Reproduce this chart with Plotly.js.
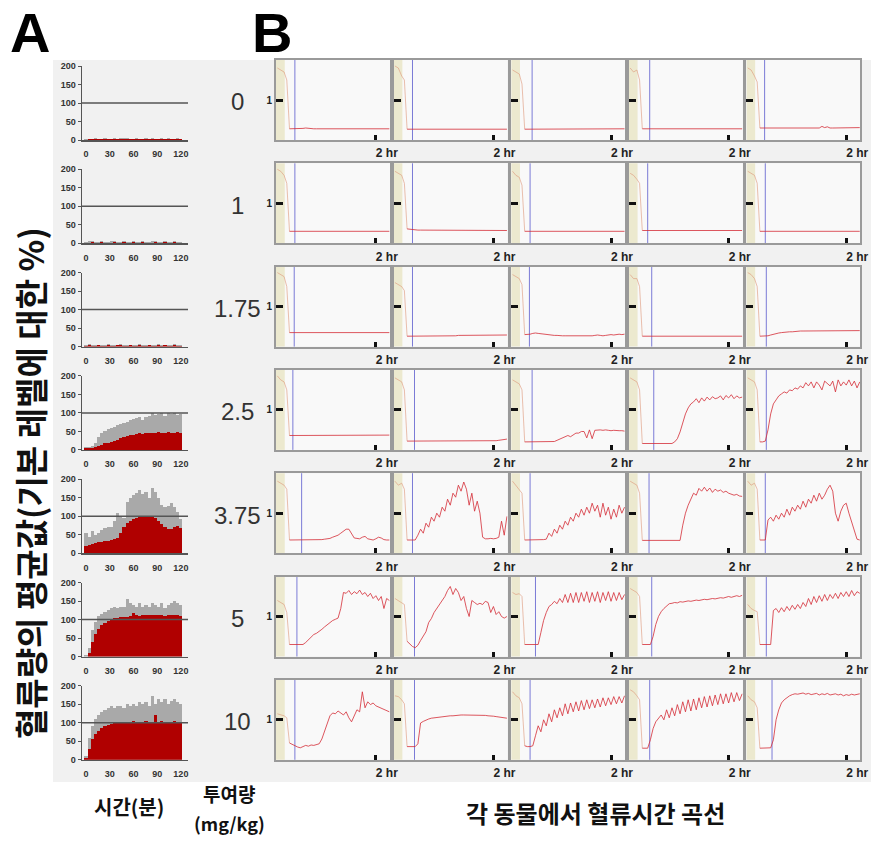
<!DOCTYPE html>
<html><head><meta charset="utf-8">
<script src="https://cdn.plot.ly/plotly-3.0.1.min.js"></script>
<style>html,body{margin:0;padding:0;background:#fff}#chart{width:871px;height:845px}</style>
</head><body><div id="chart"></div>
<script>
// ---------- Panel A: mean blood flow (% of baseline) ----------
const doseLabels = ['0','1','1.75','2.5','3.75','5','10'];
const timeA = [0,4,8,12,16,20,24,28,32,36,40,44,48,52,56,60,64,68,72,76,80,84,88,92,96,100,104,108,112,116,120];
const meanDose0 = [1,2,2,3,2,2,3,2,2,3,2,2,3,3,2,2,3,2,2,3,2,3,2,2,3,2,3,2,2,3,2];
const topDose0  = [3,4,4,5,4,4,5,4,4,5,4,5,5,6,4,4,5,4,4,5,4,5,4,4,6,4,5,4,4,6,4];
const meanDose1 = [2,2,3,2,2,3,2,2,2,3,2,2,3,2,2,3,2,2,3,2,2,2,3,2,2,3,2,2,3,2,2];
const topDose1  = [4,5,5,4,4,5,4,4,5,5,4,4,6,4,4,5,4,4,5,4,4,5,6,4,4,5,4,4,6,4,4];
const meanDose2 = [2,3,2,2,3,2,2,3,2,2,3,3,2,2,3,2,2,3,2,2,3,2,2,3,2,3,2,2,3,2,2];
const topDose2  = [4,6,4,4,5,4,4,6,4,4,5,6,4,4,5,4,4,6,4,4,5,4,4,6,4,5,4,4,6,4,4];
const meanDose3 = [4,5,6,8,10,14,18,20,22,25,28,31,34,37,39,41,43,45,44,46,45,47,46,48,46,47,48,47,46,48,45];
const topDose3  = [7,8,10,18,35,45,52,56,60,63,68,70,74,76,80,83,85,90,82,88,92,100,94,98,100,92,101,96,99,93,97];
const meanDose4 = [20,22,25,28,30,30,32,33,35,38,42,55,70,82,88,93,95,98,97,100,97,100,95,88,78,70,66,65,70,74,68];
const topDose4  = [55,45,60,48,55,62,68,70,72,88,108,98,95,138,148,158,163,172,160,166,150,175,165,150,130,124,128,136,126,112,92];
const meanDose5 = [0,10,40,62,75,85,90,95,100,103,105,107,108,108,109,118,112,110,112,111,113,112,111,113,112,110,112,113,111,112,110];
const topDose5  = [5,22,72,92,110,115,120,125,130,134,130,135,135,155,145,140,135,145,135,140,135,145,140,135,145,130,140,145,150,145,140];
const meanDose6 = [5,30,55,70,78,85,90,95,97,100,101,102,100,103,101,104,102,103,101,104,102,103,120,102,104,101,103,102,104,101,103];
const topDose6  = [10,60,90,110,120,130,135,140,145,140,145,145,140,150,145,150,145,155,150,155,145,172,150,165,155,165,150,160,165,155,150];
const ticksA_x = [0,30,60,90,120];
const ticksA_y = [0,50,100,150,200];

// ---------- Panel B: flow-time curve of each animal (relative to baseline 1) ----------
const timeB = [-26,-21,-16,-12,-8,-4,0,4,8,12,16,20,24,28,32,36,40,44,48,52,56,60,64,68,72,76,80,84,88,92,96,100,104,108,112,116,120,124,128,132,136,140];
// dose 0
const flow0_1 = [1.8,1.75,1.7,1.5, .28,.28,.28,.28,.28,.29,.30,.29,.28,.28, .28,.28,.28,.28,.28,.28,.28,.28,.28,.28, .28,.28,.28,.28,.28,.28,.28,.28,.28,.28, .28,.28,.28,.28,.28,.28,.28,.28];
const flow0_2 = [1.85,1.8,1.6,1.5, .27,.27,.27,.27,.27,.27,.27,.27,.27,.27, .27,.27,.27,.27,.27,.27,.27,.27,.27,.27, .27,.27,.27,.27,.27,.27,.27,.27,.27,.27, .27,.27,.27,.27,.27,.27,.27,.27];
const flow0_3 = [1.75,1.7,1.65,1.4, .27,.27,.27,.27,.27,.27,.27,.27,.27,.27, .27,.27,.27,.27,.27,.27,.27,.27,.27,.27, .27,.27,.27,.27,.27,.28,.28,.28,.28,.28, .28,.28,.28,.28,.28,.28,.28,.28];
const flow0_4 = [1.8,1.7,1.75,1.5, .28,.28,.28,.28,.28,.28,.28,.28,.28,.28, .28,.28,.28,.28,.28,.28,.28,.28,.28,.28, .28,.28,.28,.28,.28,.28,.28,.28,.28,.28, .28,.28,.28,.28,.28,.28,.28,.28];
const flow0_5 = [1.8,1.75,1.6,1.45, .30,.30,.30,.30,.30,.30,.30,.30,.30,.30, .30,.30,.30,.30,.30,.30,.30,.30,.30,.30, .30,.30,.30,.34,.31,.33,.30,.30,.30,.30, .30,.30,.30,.31,.31,.31,.31,.31];
// dose 1
const flow1_1 = [1.85,1.8,1.7,1.5, .30,.30,.30,.30,.30,.30,.30,.30,.30,.30, .30,.30,.30,.30,.30,.30,.30,.30,.30,.30, .30,.30,.30,.30,.30,.30,.30,.30,.30,.30, .30,.30,.30,.30,.30,.30,.30,.30];
const flow1_2 = [1.8,1.75,1.7,1.5, .36,.35,.34,.34,.33,.33,.33,.33,.33,.33, .33,.33,.33,.32,.32,.32,.32,.32,.32,.32, .32,.32,.32,.32,.32,.32,.32,.32,.32,.32, .32,.32,.32,.32,.32,.32,.32,.32];
const flow1_3 = [1.8,1.7,1.65,1.45, .30,.30,.30,.30,.30,.30,.30,.30,.30,.30, .30,.30,.30,.30,.30,.30,.30,.30,.30,.30, .30,.30,.30,.30,.30,.30,.30,.30,.30,.30, .30,.30,.30,.30,.30,.30,.30,.30];
const flow1_4 = [1.75,1.7,1.6,1.5, .32,.32,.32,.32,.32,.32,.32,.32,.32,.32, .32,.32,.32,.32,.32,.32,.32,.32,.32,.32, .32,.32,.32,.32,.32,.32,.32,.32,.32,.32, .32,.32,.32,.32,.32,.32,.32,.32];
const flow1_5 = [1.8,1.75,1.7,1.5, .30,.30,.30,.30,.30,.30,.30,.30,.30,.30, .30,.30,.30,.30,.30,.30,.30,.30,.30,.30, .30,.30,.30,.30,.30,.30,.30,.30,.30,.30, .30,.30,.30,.30,.30,.30,.30,.30];
// dose 1.75
const flow2_1 = [1.85,1.8,1.75,1.5, .35,.35,.35,.35,.35,.35,.35,.35,.35,.35, .35,.35,.35,.35,.35,.35,.35,.35,.35,.35, .35,.35,.35,.35,.35,.35,.35,.35,.35,.35, .35,.35,.35,.35,.35,.35,.35,.35];
const flow2_2 = [1.6,1.55,1.5,1.4, .26,.26,.26,.26,.26,.26,.26,.26,.27,.27, .27,.27,.27,.27,.27,.27,.27,.27,.27,.28, .28,.28,.28,.28,.28,.28,.28,.28,.28,.28, .28,.29,.29,.29,.29,.29,.29,.29];
const flow2_3 = [1.8,1.75,1.7,1.55, .30,.30,.31,.33,.34,.33,.32,.31,.30,.30, .29,.28,.28,.27,.27,.27,.27,.26,.27,.27, .26,.27,.27,.26,.27,.27,.28,.29,.28,.27, .28,.29,.30,.29,.30,.31,.30,.31];
const flow2_4 = [1.8,1.7,1.7,1.5, .26,.26,.26,.26,.26,.26,.26,.26,.26,.26, .26,.26,.26,.26,.26,.26,.26,.26,.26,.26, .26,.26,.26,.26,.26,.26,.26,.26,.26,.26, .26,.26,.26,.26,.26,.26,.26,.26];
const flow2_5 = [1.85,1.8,1.7,1.5, .26,.26,.26,.27,.29,.31,.33,.34,.35,.36, .36,.37,.37,.38,.38,.39,.39,.39,.40,.40, .40,.40,.40,.40,.40,.40,.40,.40,.40,.40, .40,.40,.40,.40,.40,.40,.40,.40];
// dose 2.5
const flow3_1 = [1.85,1.75,1.7,1.5, .36,.36,.36,.36,.36,.36,.36,.36,.36,.36, .36,.36,.36,.36,.36,.36,.36,.36,.36,.36, .36,.36,.36,.36,.36,.36,.36,.36,.36,.36, .36,.36,.36,.37,.37,.37,.37,.37];
const flow3_2 = [1.8,1.75,1.7,1.5, .22,.22,.22,.22,.22,.22,.22,.22,.22,.22, .22,.22,.22,.22,.22,.22,.22,.22,.22,.22, .22,.22,.22,.22,.22,.22,.22,.22,.22,.22, .22,.22,.23,.23,.24,.25,.26,.27];
const flow3_3 = [1.75,1.7,1.65,1.5, .20,.20,.20,.20,.20,.20,.20,.20,.20,.20, .20,.21,.24,.27,.30,.33,.36,.33,.38,.42, .42,.46,.46,.30,.50,.28,.49,.50,.50,.49, .50,.49,.48,.49,.48,.48,.48,.47];
const flow3_4 = [1.8,1.75,1.7,1.5, .16,.16,.16,.16,.16,.16,.16,.16,.16,.16, .16,.16,.20,.28,.45,.70,.90,1.05,1.15,1.20, 1.28,1.18,1.30,1.22,1.32,1.25,1.33,1.28,1.30,1.35, 1.25,1.36,1.30,1.38,1.28,1.35,1.30,1.32];
const flow3_5 = [1.8,1.75,1.7,1.5, .20,.20,.22,.50,.90,1.15,1.25,1.35,1.40,1.45, 1.42,1.50,1.48,1.55,1.52,1.60,1.55,1.68,1.60,1.70, 1.55,1.70,1.62,1.50,1.72,1.65,1.60,1.72,1.45,1.75, 1.60,1.70,1.62,1.75,1.60,1.72,1.55,1.70];
// dose 3.75
const flow4_1 = [1.8,1.75,1.7,1.6, .33,.33,.33,.33,.33,.33,.33,.33,.33,.33, .33,.33,.34,.35,.36,.37,.40,.42,.45,.50, .55,.60,.60,.48,.38,.37,.36,.40,.42,.36, .34,.33,.36,.40,.38,.34,.33,.33];
const flow4_2 = [1.8,1.7,1.75,1.6, .33,.33,.33,.33,.45,.60,.50,.75,.65,.90, .80,1.00,.90,1.15,1.05,1.35,1.20,1.50,1.40,1.70, 1.55,1.78,1.60,1.20,1.50,1.05,1.30,1.00,.40,.36, .36,.37,.36,.37,.40,.80,.45,.92];
const flow4_3 = [1.8,1.7,1.6,1.5, .33,.33,.33,.33,.33,.33,.33,.34,.35,.50, .42,.60,.50,.70,.60,.80,.70,.90,.80,1.00, .90,1.10,.95,1.15,1.00,1.25,1.05,1.20,.90,1.25, .95,1.15,.85,1.10,.90,1.20,1.00,1.15];
const flow4_4 = [1.8,1.75,1.7,1.5, .32,.32,.32,.32,.32,.32,.32,.32,.32,.32, .32,.32,.32,.32,.32,.70,1.00,1.20,1.35,1.50, 1.45,1.62,1.55,1.65,1.55,1.63,1.52,1.60,1.55,1.58, 1.52,1.55,1.50,1.48,1.45,1.47,1.43,1.42];
const flow4_5 = [1.8,1.7,1.75,1.6, .33,.33,.33,.83,.90,.80,.95,.85,1.00,.90, 1.10,.95,1.15,1.05,1.20,1.10,1.30,1.15,1.35,1.25, 1.45,1.30,1.50,1.35,1.45,1.60,1.70,1.55,1.00,.80, 1.05,1.20,1.25,1.00,.80,.60,.35,.33];
// dose 5
const flow5_1 = [1.4,1.35,1.3,1.1, .30,.30,.30,.30,.30,.30,.35,.42,.50,.55, .58,.62,.68,.74,.80,.85,.90,.93,.96,1.20, 1.60,1.58,1.65,1.55,1.62,1.57,1.66,1.55,1.60,1.50, 1.58,1.45,1.52,1.40,1.50,1.20,1.45,1.40];
const flow5_2 = [1.45,1.4,1.35,1.3, .38,.32,.25,.22,.28,.40,.50,.62,.85,.95, 1.10,1.20,1.30,1.38,1.50,1.65,1.75,1.55,1.70,1.60, 1.40,1.50,1.20,1.00,1.40,1.35,1.30,1.33,1.30,1.38, 1.35,1.10,1.25,1.05,1.12,1.00,.96,1.00];
const flow5_3 = [1.6,1.55,1.57,1.5, .30,.30,.30,.30,.30,.30,.60,.90,1.10,1.25, 1.30,1.38,1.32,1.45,1.35,1.55,1.35,1.58,1.35,1.60, 1.35,1.60,1.38,1.62,1.35,1.60,1.38,1.62,1.35,1.60, 1.40,1.62,1.38,1.60,1.40,1.60,1.42,1.55];
const flow5_4 = [1.7,1.66,1.6,1.5, .30,.30,.30,.30,.50,.80,1.00,1.12,1.20,1.27, 1.32,1.33,1.35,1.34,1.37,1.36,1.38,1.39,1.38,1.40, 1.41,1.40,1.42,1.43,1.42,1.44,1.45,1.44,1.46,1.47, 1.46,1.48,1.50,1.48,1.51,1.52,1.50,1.53];
const flow5_5 = [1.3,1.2,1.15,1.12, .30,.30,.30,.30,.30,1.15,1.20,1.10,1.22,1.12, 1.25,1.15,1.28,1.18,1.30,1.20,1.35,1.25,1.45,1.30, 1.50,1.35,1.52,1.38,1.55,1.40,1.55,1.45,1.58,1.45, 1.60,1.50,1.62,1.50,1.65,1.52,1.62,1.58];
// dose 10
const flow6_1 = [1.15,1.12,1.1,1.05, .42,.38,.35,.32,.30,.33,.36,.34,.37,.36, .38,.40,.52,.70,.90,1.10,1.17,1.15,1.22,1.18, 1.12,1.20,1.05,.95,1.10,1.25,1.20,1.70,1.30,1.45, 1.38,1.42,1.35,1.32,1.28,1.25,1.22,1.20];
const flow6_2 = [1.6,1.58,1.5,1.4, .33,.33,.33,.33,.40,.92,.96,1.00,1.02,1.04, 1.05,1.06,1.07,1.08,1.08,1.09,1.10,1.10,1.11,1.11, 1.12,1.12,1.12,1.12,1.12,1.12,1.12,1.12,1.12,1.11, 1.10,1.10,1.09,1.08,1.07,1.06,1.05,1.04];
const flow6_3 = [1.7,1.6,1.55,1.4, .35,.33,.33,.35,.60,.85,.70,1.00,.85,1.15, .95,1.25,1.05,1.30,1.10,1.40,1.15,1.42,1.20,1.45, 1.22,1.48,1.25,1.50,1.28,1.50,1.30,1.52,1.32,1.55, 1.35,1.55,1.38,1.58,1.40,1.58,1.42,1.60];
const flow6_4 = [1.75,1.7,1.6,1.5, .29,.29,.29,.50,.78,.95,1.05,1.12,1.00,1.25, 1.05,1.30,1.10,1.38,1.15,1.45,1.20,1.50,1.22,1.52, 1.25,1.55,1.30,1.58,1.32,1.60,1.35,1.62,1.38,1.65, 1.40,1.65,1.42,1.68,1.45,1.68,1.48,1.65];
const flow6_5 = [1.6,1.5,1.45,1.3, .29,.29,.29,.29,.30,.50,1.00,1.25,1.42,1.50, 1.56,1.60,1.63,1.65,1.64,1.66,1.67,1.64,1.66,1.63, 1.65,1.66,1.62,1.65,1.63,1.66,1.62,1.64,1.65,1.62, 1.64,1.60,1.63,1.61,1.64,1.62,1.63,1.65];
// time (min) of the blue marker line in each recording, per dose row
const markDose0 = [0,0,3,3,-1];
const markDose1 = [0,0,0,0,0];
const markDose2 = [-1,0,-1,6,1.5];
const markDose3 = [-3,3,3,9,1.5];
const markDose4 = [10,0,0,2,0];
const markDose5 = [3,3,8,6,1.5];
const markDose6 = [0,3,0,3,10];
const ticksB_x = [120], ticksB_xText = ['2 hr'];
const ticksB_y = [1], ticksB_yText = ['1'];

// ---------- text ----------
const yTitleA = '혈류량의 평균값(기본 레벨에 대한 %)';
const xTitleA = '시간(분)';
const doseTitle1 = '투여량', doseTitle2 = '(mg/kg)';
const titleB = '각 동물에서 혈류시간 곡선';

// ---------- build ----------
const W = 871, H = 845;
const px = v => v / W, py = v => 1 - v / H;
const meanA = [meanDose0,meanDose1,meanDose2,meanDose3,meanDose4,meanDose5,meanDose6];
const topA = [topDose0,topDose1,topDose2,topDose3,topDose4,topDose5,topDose6];
const flows = [
  [flow0_1,flow0_2,flow0_3,flow0_4,flow0_5],
  [flow1_1,flow1_2,flow1_3,flow1_4,flow1_5],
  [flow2_1,flow2_2,flow2_3,flow2_4,flow2_5],
  [flow3_1,flow3_2,flow3_3,flow3_4,flow3_5],
  [flow4_1,flow4_2,flow4_3,flow4_4,flow4_5],
  [flow5_1,flow5_2,flow5_3,flow5_4,flow5_5],
  [flow6_1,flow6_2,flow6_3,flow6_4,flow6_5]];
const marks = [markDose0,markDose1,markDose2,markDose3,markDose4,markDose5,markDose6];
const PRE = 5; // first points = pre-occlusion segment (drawn faint)

const LAT = 'Liberation Sans, Arial, sans-serif';
const KR = 'Noto Sans CJK KR, sans-serif';
const data = [], shapes = [], annotations = [];
const layout = {width:W, height:H, margin:{l:0,r:0,t:0,b:0}, paper_bgcolor:'#ffffff',
  plot_bgcolor:'rgba(0,0,0,0)', showlegend:false, barmode:'overlay', bargap:0,
  shapes:shapes, annotations:annotations};

// page gray background
shapes.push({type:'rect', xref:'paper', yref:'paper', x0:px(53), x1:1, y0:py(782), y1:py(60),
  fillcolor:'#f1f1f1', line:{width:0}, layer:'below'});

function axName(n){ return n === 1 ? '' : String(n); }

for (let r = 0; r < 7; r++) {
  const n = r + 1, xa = 'x' + axName(n), ya = 'y' + axName(n);
  data.push({type:'bar', x:timeA, y:topA[r], width:4, marker:{color:'#a9a9a9', line:{width:0}},
    xaxis:xa, yaxis:ya, hoverinfo:'skip'});
  data.push({type:'bar', x:timeA, y:meanA[r], width:4, marker:{color:'#b00000', line:{width:0}},
    xaxis:xa, yaxis:ya, hoverinfo:'skip'});
  const yb = 140 + r * 103.3;
  layout['xaxis' + axName(n)] = {domain:[px(82), px(188)], anchor:ya, range:[-5,129],
    tickvals:ticksA_x, showline:true, linecolor:'#555', linewidth:1.5, showgrid:false, zeroline:false,
    ticks:'', ticklabelstandoff:5, tickfont:{family:LAT, size:9, weight:'bold', color:'#333'}};
  layout['yaxis' + axName(n)] = {domain:[py(yb), py(yb - 74)], anchor:xa, range:[0,200],
    tickvals:ticksA_y, showline:true, linecolor:'#555', linewidth:1.5, showgrid:false, zeroline:false,
    ticks:'outside', ticklen:3, tickcolor:'#555', tickfont:{family:LAT, size:9, weight:'bold', color:'#333'}};
  shapes.push({type:'line', xref:xa + ' domain', yref:ya, x0:0, x1:1, y0:100, y1:100,
    line:{color:'#555', width:1.5}});
  annotations.push({text:doseLabels[r], xref:'paper', yref:'paper', x:px(237), y:py(102 + r * 103.3),
    showarrow:false, xanchor:'center', yanchor:'middle', font:{family:LAT, size:24, color:'#333'}});
}

for (let r = 0; r < 7; r++) {
  for (let c = 0; c < 5; c++) {
    const n = 8 + r * 5 + c, xa = 'x' + n, ya = 'y' + n;
    const left = 276 + c * 117.6, top = 60 + r * 103.3;
    layout['xaxis' + n] = {domain:[px(left), px(left + 114)], anchor:ya, range:[-28,141],
      showline:true, mirror:true, linecolor:'#9a9a9a', linewidth:2, showgrid:false, zeroline:false,
      tickvals:ticksB_x, ticktext:ticksB_xText, ticks:'inside', ticklen:5, tickwidth:3, tickcolor:'#111',
      ticklabelshift:11, ticklabelstandoff:1,
      tickfont:{family:LAT, size:12, weight:'bold', color:'#222'}};
    layout['yaxis' + n] = {domain:[py(top + 80), py(top)], anchor:xa, range:[0,2],
      showline:true, mirror:true, linecolor:'#9a9a9a', linewidth:2, showgrid:false, zeroline:false,
      tickvals:ticksB_y, ticktext:ticksB_yText, ticks:'inside', ticklen:7, tickwidth:3, tickcolor:'#111',
      showticklabels:c === 0, tickfont:{family:LAT, size:10, weight:'bold', color:'#222'}};
    shapes.push({type:'rect', xref:xa + ' domain', yref:ya + ' domain', x0:0, x1:1, y0:0, y1:1,
      fillcolor:'#f9f9f9', line:{width:0}, layer:'below'});
    shapes.push({type:'rect', xref:xa, yref:ya + ' domain', x0:-28, x1:-15, y0:0, y1:1,
      fillcolor:'#ece9cf', line:{width:0}, layer:'below'});
    shapes.push({type:'line', xref:xa, yref:ya + ' domain', x0:marks[r][c], x1:marks[r][c], y0:0, y1:1,
      line:{color:'#7b7bd6', width:1}, layer:'below'});
    const f = flows[r][c];
    data.push({type:'scatter', mode:'lines', x:timeB.slice(0, PRE), y:f.slice(0, PRE), xaxis:xa, yaxis:ya,
      line:{color:'rgba(222,150,120,0.6)', width:1}, hoverinfo:'skip'});
    data.push({type:'scatter', mode:'lines', x:timeB.slice(PRE - 1), y:f.slice(PRE - 1), xaxis:xa, yaxis:ya,
      line:{color:'rgba(212,45,55,0.8)', width:1}, hoverinfo:'skip'});
  }
}

// panel letters and titles
annotations.push({text:'A', xref:'paper', yref:'paper', x:px(8), y:py(33), xanchor:'left', yanchor:'middle',
  showarrow:false, font:{family:LAT, size:56, weight:'bold', color:'#000'}});
annotations.push({text:'B', xref:'paper', yref:'paper', x:px(250), y:py(33), xanchor:'left', yanchor:'middle',
  showarrow:false, font:{family:LAT, size:56, weight:'bold', color:'#000'}});
annotations.push({text:yTitleA, xref:'paper', yref:'paper', x:px(30), y:py(483), textangle:-90,
  xanchor:'center', yanchor:'middle', showarrow:false, font:{family:KR, size:33, weight:'bold', color:'#111'}});
annotations.push({text:xTitleA, xref:'paper', yref:'paper', x:px(129), y:py(806), showarrow:false,
  xanchor:'center', yanchor:'middle', font:{family:KR, size:20, weight:'bold', color:'#111'}});
annotations.push({text:doseTitle1, xref:'paper', yref:'paper', x:px(229), y:py(793), showarrow:false,
  xanchor:'center', yanchor:'middle', font:{family:KR, size:19, weight:'bold', color:'#111'}});
annotations.push({text:doseTitle2, xref:'paper', yref:'paper', x:px(229), y:py(823), showarrow:false,
  xanchor:'center', yanchor:'middle', font:{family:KR, size:18, weight:'bold', color:'#111'}});
annotations.push({text:titleB, xref:'paper', yref:'paper', x:px(595), y:py(812), showarrow:false,
  xanchor:'center', yanchor:'middle', font:{family:KR, size:24, weight:'bold', color:'#111'}});

Plotly.newPlot('chart', data, layout, {staticPlot:true, displayModeBar:false});
</script>
</body></html>
